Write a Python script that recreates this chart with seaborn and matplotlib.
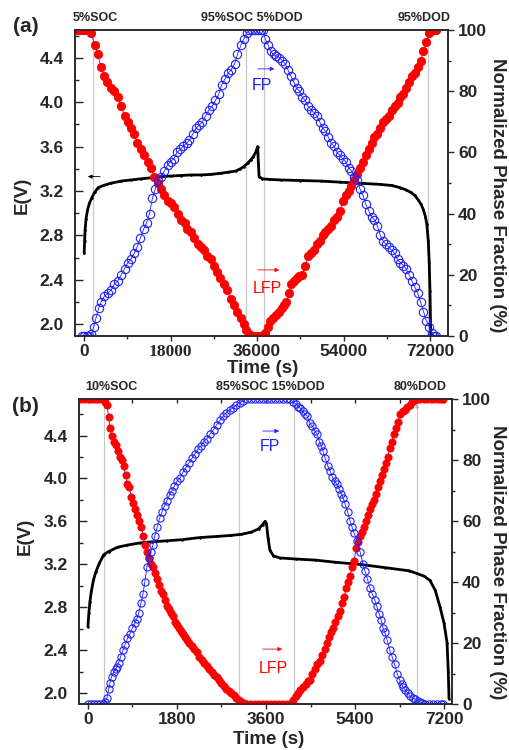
import matplotlib
matplotlib.use("Agg")
import matplotlib.pyplot as plt
import seaborn as sns
from matplotlib.ticker import FixedLocator, MultipleLocator

# ------------------------------------------------------------------ data (a)
a_volt_t = [0, 100, 200, 400, 700, 1100, 1600, 2200, 2900, 4000, 5500, 7700, 9800,
            11800, 14000, 16000, 18000, 20100, 22200, 24300, 26400, 28400, 30000,
            31500, 32500, 33200, 34000, 34650, 35200, 35700, 36100, 36250, 36400,
            37100, 38500, 40900, 45000, 49200, 53300, 57500, 61600, 64000, 65800,
            67000, 67900, 68800, 69500, 70100, 70600, 71000, 71300, 71600, 71800,
            71950, 72050, 72100]
a_volt_e = [2.64, 2.75, 2.85, 2.95, 3.03, 3.09, 3.14, 3.19, 3.23, 3.25, 3.27, 3.29, 3.30,
            3.31, 3.32, 3.33, 3.335, 3.34, 3.345, 3.345, 3.35, 3.36, 3.37,
            3.38, 3.40, 3.42, 3.45, 3.48, 3.51, 3.55, 3.60, 3.45, 3.33,
            3.31, 3.305, 3.30, 3.295, 3.29, 3.28, 3.27, 3.26, 3.25, 3.23,
            3.21, 3.19, 3.16, 3.12, 3.08, 3.03, 2.97, 2.90, 2.75, 2.55,
            2.30, 2.05, 1.91]

a_lfp_t = [-1500, -1000, -500, 0, 500, 1000, 1500, 2200, 2800, 3500, 4200, 4800, 5500,
           6200, 7000, 7700, 8400, 9100, 9800, 10400, 11100, 11800, 12500, 13200,
           13900, 14600, 15300, 16000, 16700, 17400, 18100, 18800, 19500, 20200,
           20900, 21500, 22200, 22900, 23600, 24300, 24900, 25600, 26300, 27000,
           27600, 28300, 29000, 29700, 30500, 31200, 31900, 32600, 33200, 33700,
           34200, 34700, 35200, 35700, 36200, 36700, 37200,
           37700, 38200, 38700, 39300, 39900, 40500, 41100, 41600, 42100, 42600,
           43100, 43600, 44200, 44800, 45400, 46000, 46600, 47200, 47800, 48400,
           49000, 49600, 50200, 50800, 51400, 52000, 52600, 53200, 53800, 54400,
           55000, 55600, 56200, 56800, 57400, 58000, 58600, 59200, 59800, 60400,
           61000, 61600, 62200, 62800, 63400, 64000, 64600, 65200, 65800, 66400,
           67000, 67600, 68200, 68800, 69400, 70000, 70600, 71200, 71800, 72300,
           72800, 73300]
a_lfp_v = [100, 100, 100, 100, 100, 100, 99, 95, 92, 88, 85, 83, 81,
           80, 78, 75, 72, 70, 68, 66, 63, 61, 59, 57,
           55, 52, 50, 48, 46, 44, 43.5, 42, 40, 38,
           37, 35, 34, 32, 30, 29, 28, 26, 25, 23,
           21, 19, 17, 15, 12, 10, 8, 6, 4, 2,
           0.5, 0, 0, 0, 0, 0, 0,
           1, 3, 5, 6, 7, 8, 9, 10, 11, 14,
           17, 18, 19, 19.5, 20, 23, 26, 27, 28, 30,
           31, 33, 34, 35, 36, 38, 39, 41, 44, 46,
           47.5, 49, 51, 53, 55, 57, 59, 61, 63, 65,
           66, 68, 70, 71, 72, 74, 75, 76, 78, 79,
           81, 83, 85, 86, 88, 90, 93, 96, 99, 100,
           100, 100]

a_fp_t = [-500, 0, 500, 1000, 1500, 2000, 2500, 3000, 3500, 4200, 4900, 5600, 6300,
          7000, 7700, 8400, 9100, 9700, 10400, 11000, 11700, 12400, 13000, 13600,
          14200, 14800, 15400, 16000, 16700, 17400, 18000, 18700, 19300, 20000,
          20600, 21300, 21900, 22600, 23300, 24000, 24600, 25300, 26000, 26600,
          27300, 28000, 28600, 29300, 30000, 30600, 31300, 31900, 32600, 33200,
          33800, 34400, 35000, 35600, 36200, 36800, 37300,
          37700, 38300, 38800, 39400, 40000, 40600, 41200, 41800, 42400, 43000,
          43600, 44200, 44800, 45400, 46000, 46600, 47200, 47800, 48400, 49000,
          49600, 50200, 50800, 51400, 52000, 52600, 53200, 53800, 54400, 55000,
          55600, 56200, 56800, 57400, 58000, 58600, 59200, 59800, 60400, 61000,
          61600, 62200, 62800, 63400, 64000, 64600, 65200, 65800, 66400, 67000,
          67600, 68200, 68800, 69400, 70000, 70600, 71200, 71800, 72300, 72800,
          73300]
a_fp_v = [0, 0, 0, 0, 0.5, 3, 6, 9, 11, 13, 14, 15, 17,
          18, 20, 22, 24, 25, 27, 29, 32, 35, 37, 40,
          45, 48, 51, 52, 54, 56, 57, 58, 60, 61,
          62, 63, 64, 66, 68, 69, 70, 72, 74, 75,
          77, 79, 82, 84, 86, 87, 89, 92, 95, 97,
          99, 100, 100, 100, 100, 100, 100,
          97, 95, 93, 92, 91.5, 91, 90, 89, 87, 85,
          83, 81, 80, 78, 77, 75, 74, 73, 72, 70,
          68, 67, 65, 63, 62, 60, 59, 58, 57, 55,
          54, 52, 51, 48, 46, 43, 41, 39, 38, 36,
          33, 31, 30, 29, 28, 27, 25, 24, 23, 22,
          20, 18, 16, 14, 11, 8, 5, 3, 1, 0,
          0]

a_marks_t = [1870, 33600, 37350, 71580]
a_marks_txt = ["5%SOC", "95%SOC 5%DOD", "95%DOD"]
a_xticks = [0, 18000, 36000, 54000, 72000]
a_xticklabels = ["0", "18000", "36000", "54000", "72000"]

# ------------------------------------------------------------------ data (b)
b_volt_t = [0, 20, 40, 70, 110, 160, 230, 320, 420, 600, 800, 1050, 1300, 1600,
            1900, 2265, 2600, 2900, 3100, 3300, 3450, 3530, 3580, 3610, 3640,
            3680, 3750, 3880, 4200, 4600, 5000, 5500, 6000, 6500, 6800, 6915,
            7020, 7120, 7200, 7260, 7285, 7300]
b_volt_e = [2.62, 2.75, 2.85, 2.95, 3.05, 3.13, 3.21, 3.29, 3.32, 3.36, 3.38, 3.40,
            3.41, 3.42, 3.43, 3.45, 3.46, 3.47, 3.48, 3.50, 3.53, 3.57, 3.60, 3.58,
            3.45, 3.33, 3.28, 3.26, 3.25, 3.24, 3.22, 3.20, 3.17, 3.14, 3.09, 3.05,
            2.96, 2.80, 2.65, 2.47, 2.20, 1.95]

b_lfp_t = [-150, -80, 0, 60, 120, 180, 240, 300, 350, 384, 420, 445, 480, 520, 560,
           600, 640, 680, 720, 760, 800, 840, 880, 920, 960, 1000, 1040, 1080,
           1120, 1160, 1200, 1240, 1280, 1320, 1360, 1400, 1440, 1480, 1520, 1560,
           1600, 1640, 1680, 1720, 1760, 1800, 1840, 1880, 1920, 1960, 2000, 2050,
           2100, 2150, 2200, 2250, 2300, 2350, 2400, 2450, 2500, 2550, 2600, 2650,
           2700, 2750, 2800, 2850, 2900, 2950, 3000, 3050, 3100, 3150,
           3220, 3300, 3380, 3460, 3540, 3620, 3700, 3780, 3860, 3940, 4020, 4090,
           4145, 4200, 4250, 4290, 4350, 4400, 4450, 4490, 4540, 4590, 4640, 4690,
           4740, 4790, 4830, 4870, 4910, 4955, 5000, 5050, 5100, 5140, 5180, 5220,
           5260, 5300, 5340, 5380, 5420, 5460, 5500, 5540, 5580, 5620, 5660, 5700,
           5740, 5780, 5820, 5860, 5900, 5940, 5980, 6020, 6060, 6100, 6140, 6180,
           6220, 6260, 6310, 6360, 6410, 6460, 6510, 6560, 6610, 6660,
           6720, 6790, 6860, 6930, 7000, 7070, 7130, 7180]
b_lfp_v = [100, 100, 100, 100, 100, 100, 100, 100, 99, 98, 94, 90.5, 88, 86, 85,
           83, 81, 80, 78, 75, 72, 71, 68, 66, 64, 62, 60, 58,
           55, 52, 50, 48, 46, 45, 43, 41, 39, 37, 36, 34,
           32, 31, 30, 29, 27, 26, 25, 24, 23, 22, 21, 20,
           19, 18, 17, 15.5, 14.5, 13.5, 12.5, 11.5, 10.5, 9.5, 9, 8,
           7, 6, 5, 4.2, 3.5, 2.8, 2, 1.4, 0.8, 0.3,
           0, 0, 0, 0, 0, 0, 0, 0, 0, 0, 0, 0,
           1.3, 2.5, 3.5, 4.6, 5.5, 6.5, 7.5, 8, 10, 11.5, 13, 14,
           16, 18, 20, 22, 23.5, 25, 27, 29, 30.5, 33, 35, 38,
           40, 42, 45, 47, 51, 53, 55, 56.5, 58, 60, 62, 64,
           65.5, 67, 69, 71, 73, 75, 77, 79, 81, 84, 86, 88.5,
           90.5, 92.5, 95, 96, 96.5, 97.5, 98, 99, 99.6, 100,
           100, 100, 100, 100, 100, 100, 100, 100]

b_fp_t = [0, 60, 120, 180, 240, 300, 340, 384, 420, 445, 480, 520, 560, 586, 620,
          660, 708, 750, 800, 850, 900, 950, 991, 1030, 1070, 1112, 1150, 1193,
          1230, 1270, 1314, 1350, 1400, 1450, 1500, 1550, 1597, 1650, 1700, 1750,
          1800, 1860, 1920, 1980, 2040, 2100, 2160, 2220, 2280, 2340, 2406, 2470,
          2540, 2600, 2669, 2740, 2800, 2870, 2932, 3000, 3073, 3140,
          3220, 3300, 3380, 3460, 3540, 3620, 3700, 3780, 3860, 3940, 4020, 4090,
          4145, 4200, 4250, 4290, 4340, 4390, 4430, 4490, 4540, 4590, 4630, 4680,
          4720, 4750, 4800, 4850, 4895, 4940, 4990, 5035, 5080, 5120, 5160, 5200,
          5250, 5300, 5340, 5380, 5440, 5500, 5560, 5600, 5650, 5700, 5750, 5800,
          5840, 5890, 5930, 5965, 6000, 6050, 6105, 6150, 6200, 6250, 6300, 6340,
          6370, 6420, 6470, 6520, 6570, 6620, 6670, 6710, 6760,
          6820, 6900, 6980, 7060, 7130, 7180]
b_fp_v = [0, 0, 0, 0, 0, 0, 0.5, 2, 5, 7, 9, 10.5, 11.5, 12, 13.5,
          15.5, 17.6, 19.5, 21.5, 23, 25, 26.5, 28, 30, 33, 36, 40, 45,
          48, 50, 52, 55, 58, 61, 63, 65, 66.7, 68.5, 70, 71.5,
          73, 74, 76, 77.5, 79, 80.5, 82, 83.5, 84.5, 86, 87, 88.5,
          90, 91.5, 93, 94.5, 95.5, 96.5, 97, 98, 98.7, 99.5,
          100, 100, 100, 100, 100, 100, 100, 100, 100, 100, 100, 100,
          99, 98.5, 97.5, 97, 96, 95, 94.5, 92, 91, 89.5, 88.6, 86,
          84.5, 83, 80.5, 78, 76.5, 74.5, 73, 72, 70.5, 69, 67.6, 65.5,
          63, 60, 58, 56, 53.6, 50, 46, 43.5, 41, 38, 36, 34,
          32, 29.5, 27.5, 25, 23.5, 21, 17.6, 15.5, 13, 10, 8, 6.5,
          5.6, 4.5, 3.5, 2.5, 2, 1.5, 1, 0.7, 0.3,
          0, 0, 0, 0, 0, 0]

b_marks_t = [324, 3054, 4166, 6654]
b_marks_txt = ["10%SOC", "85%SOC 15%DOD", "80%DOD"]
b_xticks = [0, 1800, 3600, 5400, 7200]
b_xticklabels = ["0", "1800", "3600", "5400", "7200"]

e_ticks = [2.0, 2.4, 2.8, 3.2, 3.6, 4.0, 4.4]
e_ticklabels = ["2.0", "2.4", "2.8", "3.2", "3.6", "4.0", "4.4"]
f_ticks = [0, 20, 40, 60, 80, 100]
f_ticklabels = ["0", "20", "40", "60", "80", "100"]

# ------------------------------------------------------------------ style
sns.set_style("ticks")
plt.rcParams["font.family"] = ["Liberation Sans", "DejaVu Sans"]
plt.rcParams["font.weight"] = "bold"
plt.rcParams["axes.linewidth"] = 1.1

fig = plt.figure(figsize=(5.09, 7.5), dpi=100)

BLUE = "#1f1fff"
RED = "#ff0000"
GRAY = "#c8c8c8"
TICK_FS = 12.5
LAB_FS = 13.5


def panel(rect, vt, ve, lfpt, lfpv, fpt, fpv, marks, marks_txt, txt_x,
          xlim, ylim, xticks, xticklabels, xminor, ms, top_ticks,
          ev_pos, time_pos, npf_pos, fp_arrow, fp_txt, lfp_arrow, lfp_txt):
    ax = fig.add_axes(rect)
    for t in marks:
        ax.axvline(t, color=GRAY, lw=0.9, zorder=0)
    sns.lineplot(x=vt, y=ve, ax=ax, color="black", lw=2.0, estimator=None,
                 sort=False, marker=".", markersize=2.5,
                 markeredgecolor="black", markeredgewidth=0.5, zorder=3)
    ax.set_xlim(*xlim)
    ax.set_ylim(*ylim)
    ax.xaxis.set_major_locator(FixedLocator(xticks))
    ax.set_xticklabels(xticklabels)
    ax.xaxis.set_minor_locator(MultipleLocator(xminor))
    ax.yaxis.set_major_locator(FixedLocator(e_ticks))
    ax.set_yticklabels(e_ticklabels)
    ax.yaxis.set_minor_locator(MultipleLocator(0.2))
    ax.tick_params(axis="x", which="major", direction="out", length=3.8,
                   width=1.0, pad=2, labelsize=TICK_FS)
    ax.tick_params(axis="x", which="minor", direction="out", length=2.3, width=1.0)
    ax.tick_params(axis="y", which="major", direction="in", length=5.5,
                   width=1.0, pad=8, labelsize=TICK_FS)
    ax.tick_params(axis="y", which="minor", direction="in", length=3.0, width=1.0)
    ax.set_xlabel("Time (s)", fontsize=LAB_FS, fontweight="bold",
                  ha="center", va="center")
    ax.xaxis.set_label_coords(*time_pos)
    ax.set_ylabel("E(V)", fontsize=LAB_FS, fontweight="bold",
                  ha="center", va="center")
    ax.yaxis.set_label_coords(*ev_pos)
    for lab in ax.get_xticklabels() + ax.get_yticklabels():
        lab.set_fontweight("bold")
    if top_ticks:
        sec = ax.secondary_xaxis("top")
        sec.xaxis.set_major_locator(FixedLocator(xticks))
        sec.xaxis.set_minor_locator(MultipleLocator(xminor))
        sec.tick_params(axis="x", which="both", direction="in", length=3.0,
                        width=1.0, labeltop=False)
        sec.spines["top"].set_linewidth(1.1)

    tw = ax.twinx()
    sns.lineplot(x=lfpt, y=lfpv, ax=tw, color=BLUE, lw=0.6, estimator=None,
                 sort=False, marker="o", markersize=ms, markerfacecolor=RED,
                 markeredgecolor=RED, markeredgewidth=0.6)
    sns.lineplot(x=fpt, y=fpv, ax=tw, color=BLUE, lw=0.6, estimator=None,
                 sort=False, marker="o", markersize=ms, markerfacecolor="none",
                 markeredgecolor=BLUE, markeredgewidth=0.8)
    tw.set_ylim(0, 100)
    ax.set_xlim(*xlim)
    tw.yaxis.set_major_locator(FixedLocator(f_ticks))
    tw.set_yticklabels(f_ticklabels)
    tw.yaxis.set_minor_locator(MultipleLocator(10))
    tw.tick_params(axis="y", which="major", direction="out", length=4.3,
                   width=1.0, pad=3, labelsize=TICK_FS)
    tw.tick_params(axis="y", which="minor", direction="out", length=2.5, width=1.0)
    for lab in tw.get_yticklabels():
        lab.set_fontweight("bold")
    tw.set_ylabel("Normalized Phase Fraction (%)", fontsize=LAB_FS,
                  fontweight="bold", rotation=270, ha="center", va="center")
    tw.yaxis.set_label_coords(*npf_pos)
    tw.set_xlabel("")
    for sp in tw.spines.values():
        sp.set_linewidth(1.1)

    for x, s in zip(txt_x, marks_txt):
        ax.text(x, 1.039, s, transform=ax.transAxes, ha="center", va="center",
                fontsize=9, fontweight="bold")

    # FP / LFP direction arrows
    ax.annotate("", xy=(fp_arrow[1], fp_arrow[2]), xytext=(fp_arrow[0], fp_arrow[2]),
                xycoords="axes fraction", textcoords="axes fraction",
                arrowprops=dict(arrowstyle="-|>", color=BLUE, lw=0.6,
                                mutation_scale=6), zorder=5)
    ax.text(fp_txt[0], fp_txt[1], "FP", transform=ax.transAxes, color=BLUE,
            fontsize=11.5, fontweight="normal", ha="center", va="center", zorder=5)
    ax.annotate("", xy=(lfp_arrow[1], lfp_arrow[2]), xytext=(lfp_arrow[0], lfp_arrow[2]),
                xycoords="axes fraction", textcoords="axes fraction",
                arrowprops=dict(arrowstyle="-|>", color=RED, lw=0.6,
                                mutation_scale=6), zorder=5)
    ax.text(lfp_txt[0], lfp_txt[1], "LFP", transform=ax.transAxes, color=RED,
            fontsize=11.5, fontweight="normal", ha="center", va="center", zorder=5)
    return ax, tw


ax_a, tw_a = panel([75 / 509, 1 - 336 / 750, 373 / 509, 306 / 750],
                   a_volt_t, a_volt_e, a_lfp_t, a_lfp_v, a_fp_t, a_fp_v,
                   a_marks_t, a_marks_txt, [0.054, 0.473, 0.936],
                   (-1900, 75700), (1.895, 4.65), a_xticks, a_xticklabels, 9000,
                   6.0, False,
                   (-0.142, 0.46), (0.504, -0.105), (1.134, 0.46),
                   (0.483, 0.542, 0.873), (0.50, 0.818),
                   (0.483, 0.555, 0.216), (0.515, 0.154))

ax_b, tw_b = panel([79 / 509, 1 - 704 / 750, 373 / 509, 305 / 750],
                   b_volt_t, b_volt_e, b_lfp_t, b_lfp_v, b_fp_t, b_fp_v,
                   b_marks_t, b_marks_txt, [0.086, 0.512, 0.914],
                   (-180, 7360), (1.90, 4.74), b_xticks, b_xticklabels, 900,
                   5.2, True,
                   (-0.145, 0.548), (0.509, -0.118), (1.123, 0.466),
                   (0.485, 0.544, 0.895), (0.512, 0.843),
                   (0.485, 0.552, 0.18), (0.52, 0.118))

# serif "18000" label as in the original figure
for lab in ax_a.get_xticklabels():
    if lab.get_text() == "18000":
        lab.set_fontfamily("Liberation Serif")

# black arrow pointing to the left (voltage axis) in panel (a)
ax_a.annotate("", xy=(0.027, 3.33), xytext=(0.075, 3.33),
              xycoords=("axes fraction", "data"), textcoords=("axes fraction", "data"),
              arrowprops=dict(arrowstyle="-|>", color="black", lw=0.6,
                              mutation_scale=6), zorder=5)

# small gray arrows at the DOD markers of panel (b)
ax_b.annotate("", xy=(b_marks_t[2], 1.92), xytext=(b_marks_t[2], 2.02),
              arrowprops=dict(arrowstyle="-|>", color="#b4b4b4", lw=0.6,
                              mutation_scale=5), zorder=1)
ax_b.annotate("", xy=(b_marks_t[3], 4.72), xytext=(b_marks_t[3], 4.62),
              arrowprops=dict(arrowstyle="-|>", color="#b4b4b4", lw=0.6,
                              mutation_scale=5), zorder=1)

fig.text(26 / 509, 1 - 26 / 750, "(a)", fontsize=15, fontweight="bold",
         ha="center", va="center")
fig.text(25.5 / 509, 1 - 407 / 750, "(b)", fontsize=15, fontweight="bold",
         ha="center", va="center")

fig.savefig("out.png", dpi=100)
